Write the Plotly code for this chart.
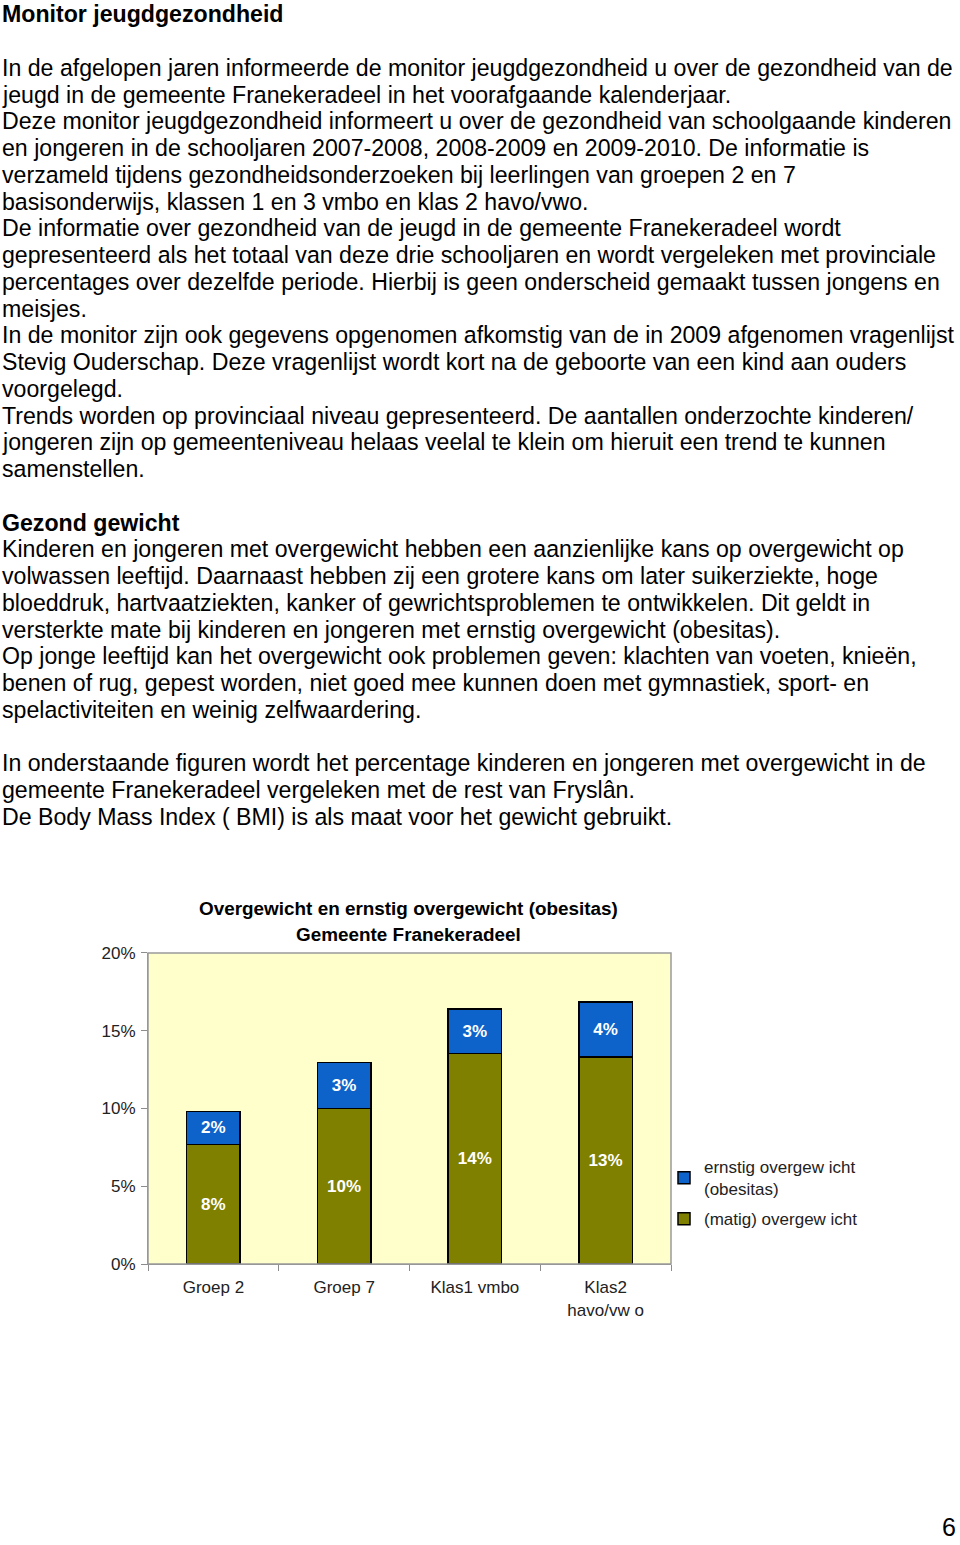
import plotly.graph_objects as go

# ---------------- data ----------------
categories = ["Groep 2", "Groep 7", "Klas1 vmbo", "Klas2<br>havo/vw o"]
matig = [7.7, 10.0, 13.55, 13.3]          # (matig) overgewicht, %
ernstig = [2.1, 2.95, 2.85, 3.55]         # ernstig overgewicht (obesitas), %
y_ticks = [0, 5, 10, 15, 20]
y_ticklabels = ["0%", "5%", "10%", "15%", "20%"]
series_names = ["(matig) overgew icht", "ernstig overgew icht<br>(obesitas)"]
chart_title = ["Overgewicht en ernstig overgewicht (obesitas)", "Gemeente Franekeradeel"]

page_lines = [
    ("Monitor jeugdgezondheid", True),
    ("", False),
    ("In de afgelopen jaren informeerde de monitor jeugdgezondheid u over de gezondheid van de", False),
    ("jeugd in de gemeente Franekeradeel in het voorafgaande kalenderjaar.", False),
    ("Deze monitor jeugdgezondheid informeert u over de gezondheid van schoolgaande kinderen", False),
    ("en jongeren in de schooljaren 2007-2008, 2008-2009 en 2009-2010. De informatie is", False),
    ("verzameld tijdens gezondheidsonderzoeken bij leerlingen van groepen 2 en 7", False),
    ("basisonderwijs, klassen 1 en 3 vmbo en klas 2 havo/vwo.", False),
    ("De informatie over gezondheid van de jeugd in de gemeente Franekeradeel wordt", False),
    ("gepresenteerd als het totaal van deze drie schooljaren en wordt vergeleken met provinciale", False),
    ("percentages over dezelfde periode. Hierbij is geen onderscheid gemaakt tussen jongens en", False),
    ("meisjes.", False),
    ("In de monitor zijn ook gegevens opgenomen afkomstig van de in 2009 afgenomen vragenlijst", False),
    ("Stevig Ouderschap. Deze vragenlijst wordt kort na de geboorte van een kind aan ouders", False),
    ("voorgelegd.", False),
    ("Trends worden op provinciaal niveau gepresenteerd. De aantallen onderzochte kinderen/", False),
    ("jongeren zijn op gemeenteniveau helaas veelal te klein om hieruit een trend te kunnen", False),
    ("samenstellen.", False),
    ("", False),
    ("Gezond gewicht", True),
    ("Kinderen en jongeren met overgewicht hebben een aanzienlijke kans op overgewicht op", False),
    ("volwassen leeftijd. Daarnaast hebben zij een grotere kans om later suikerziekte, hoge", False),
    ("bloeddruk, hartvaatziekten, kanker of gewrichtsproblemen te ontwikkelen. Dit geldt in", False),
    ("versterkte mate bij kinderen en jongeren met ernstig overgewicht (obesitas).", False),
    ("Op jonge leeftijd kan het overgewicht ook problemen geven: klachten van voeten, knieën,", False),
    ("benen of rug, gepest worden, niet goed mee kunnen doen met gymnastiek, sport- en", False),
    ("spelactiviteiten en weinig zelfwaardering.", False),
    ("", False),
    ("In onderstaande figuren wordt het percentage kinderen en jongeren met overgewicht in de", False),
    ("gemeente Franekeradeel vergeleken met de rest van Fryslân.", False),
    ("De Body Mass Index ( BMI) is als maat voor het gewicht gebruikt.", False),
]
page_number = "6"

# ---------------- layout helpers ----------------
W, H = 960, 1545
FONT = "Liberation Sans, Arial, sans-serif"


def py(ypx):
    # vertical position (page pixels from top) -> paper coordinate
    t = (ypx - 9.2) / 0.9875
    return 1 - t / H


def px(xpx):
    return xpx / W


fig = go.Figure()

fig.add_trace(go.Bar(
    x=categories, y=matig, name=series_names[0], legendgroup="m", legendrank=2,
    marker=dict(color="#808000", line=dict(color="#000000", width=1.5)),
    texttemplate="%{y:.0f}%", textposition="inside", insidetextanchor="middle",
    textfont=dict(family=FONT, size=17, color="white", weight="bold"),
    width=0.41,
))
fig.add_trace(go.Bar(
    x=categories, y=ernstig, name=series_names[1], legendgroup="e", legendrank=1,
    marker=dict(color="#0D63C9", line=dict(color="#000000", width=1.5)),
    texttemplate="%{y:.0f}%", textposition="inside", insidetextanchor="middle",
    textfont=dict(family=FONT, size=17, color="white", weight="bold"),
    width=0.41,
))

x0, x1 = px(148), px(671)
y0, y1 = py(1264), py(953)

fig.update_layout(
    width=W, height=H,
    margin=dict(l=0, r=0, t=0, b=0),
    paper_bgcolor="white",
    plot_bgcolor="#FFFFCC",
    barmode="stack",
    font=dict(family=FONT, color="#000000"),
    showlegend=True,
    legend=dict(
        x=px(664), y=py(1149), xanchor="left", yanchor="top",
        font=dict(family=FONT, size=17, color="#222222"),
        bgcolor="rgba(0,0,0,0)", traceorder="grouped",
        itemwidth=30, tracegroupgap=5,
    ),
    xaxis=dict(
        domain=[x0, x1],
        showline=True, linecolor="#8c8c8c", linewidth=1,
        ticks="outside", tickson="boundaries", ticklen=6, tickcolor="#8c8c8c",
        ticklabelstandoff=8,
        tickfont=dict(family=FONT, size=17, color="#222222"),
        showgrid=False, fixedrange=True,
    ),
    yaxis=dict(
        domain=[y0, y1], range=[0, 20],
        tickvals=y_ticks, ticktext=y_ticklabels,
        showline=True, linecolor="#8c8c8c", linewidth=1,
        ticks="outside", ticklen=6, tickcolor="#8c8c8c",
        ticklabelstandoff=2,
        tickfont=dict(family=FONT, size=17, color="#222222"),
        showgrid=False, zeroline=False, fixedrange=True,
    ),
)

# plot area border
fig.add_shape(type="rect", xref="x domain", yref="y domain", x0=0, x1=1, y0=0, y1=1,
              line=dict(color="#9a9a9a", width=1.5), fillcolor="rgba(0,0,0,0)", layer="above")

# chart titles
for i, t in enumerate(chart_title):
    fig.add_annotation(text=f"<b>{t}</b>", xref="paper", yref="paper",
                       x=px(408), y=py(909 + i * 26), xanchor="center", yanchor="middle",
                       showarrow=False, font=dict(family=FONT, size=18.9, color="#000000"))

# page text
first, step = 68, 26.75
for i, (line, bold) in enumerate(page_lines):
    if not line:
        continue
    txt = f"<b>{line}</b>" if bold else line
    fig.add_annotation(text=txt, xref="paper", yref="paper",
                       x=px(0), y=py(first + (i - 2) * step), xanchor="left", yanchor="middle",
                       showarrow=False, align="left",
                       font=dict(family=FONT, size=23.15, color="#000000"))

fig.add_annotation(text=page_number, xref="paper", yref="paper",
                   x=px(949), y=1 - 1537 / H, xanchor="center", yanchor="middle",
                   showarrow=False, font=dict(family=FONT, size=25, color="#000000"))

fig.write_html("out.html", config={"displayModeBar": False},
               post_script="document.body.style.margin='0';")
